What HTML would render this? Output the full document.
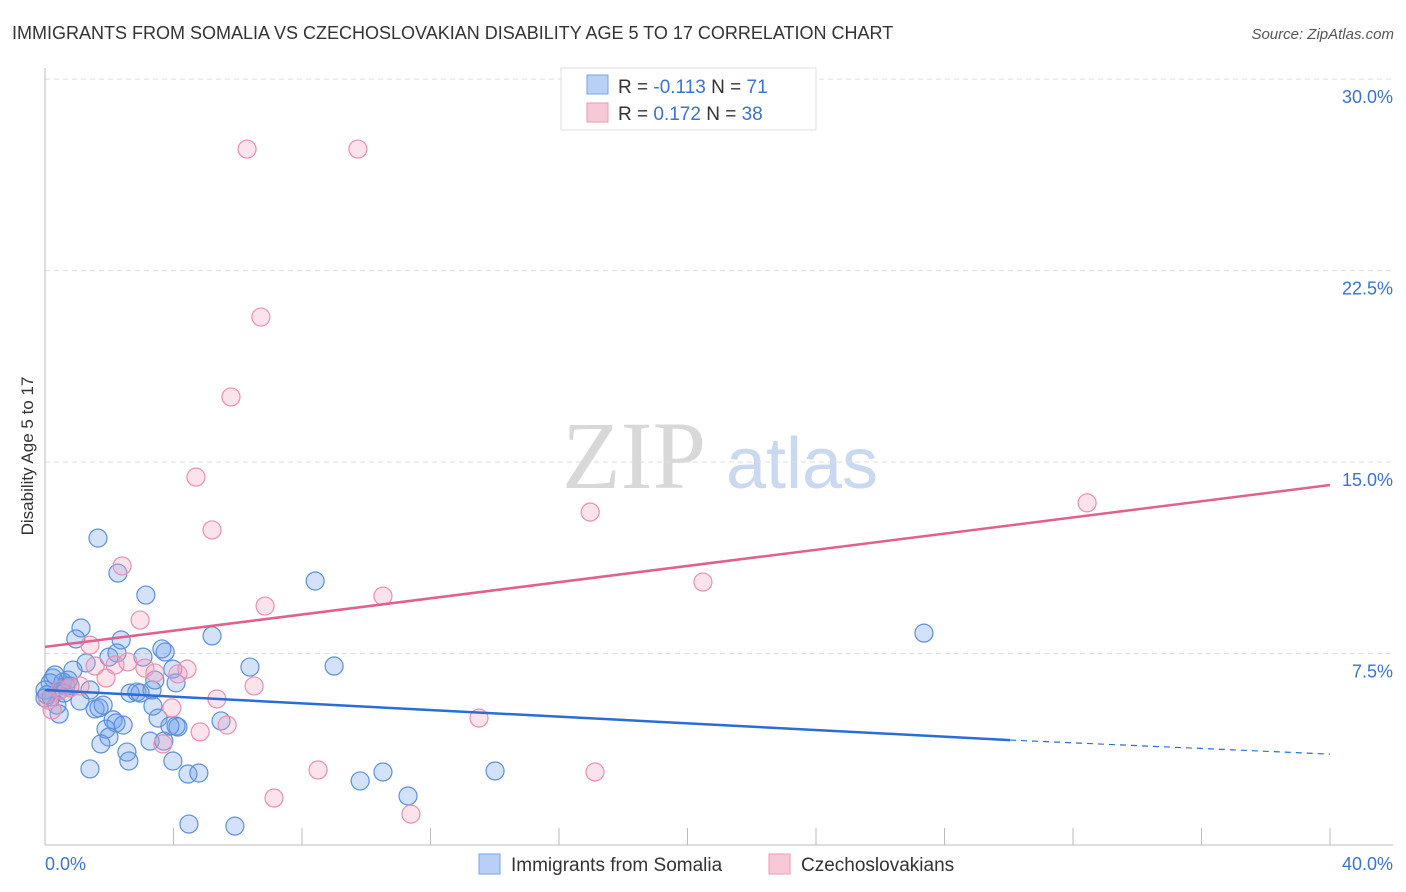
<!DOCTYPE html>
<html><head><meta charset="utf-8"><style>
body{margin:0;background:#fff;font-family:"Liberation Sans",sans-serif}
svg{display:block}
</style></head><body>
<svg id="chart" width="1406" height="892" viewBox="0 0 1406 892">
<text x="12" y="39" font-size="18" fill="#333">IMMIGRANTS FROM SOMALIA VS CZECHOSLOVAKIAN DISABILITY AGE 5 TO 17 CORRELATION CHART</text>
<text x="1394" y="39" font-size="15" fill="#555" text-anchor="end" font-style="italic">Source: ZipAtlas.com</text>
<text transform="translate(33,456) rotate(-90)" font-size="17" fill="#333" text-anchor="middle">Disability Age 5 to 17</text>
<g>
<text x="634" y="488" font-size="96" font-family="Liberation Serif,serif" fill="#d8d8d8" text-anchor="middle">ZIP</text>
<text x="802" y="488" font-size="72" fill="#c9d9f0" text-anchor="middle">atlas</text>
</g>
<g id="grid"></g>
<g id="axes"></g>
<g id="pts"></g>
<g id="trend"></g>
<g>
<rect x="561" y="68" width="255" height="62" fill="#fff" stroke="#ddd"/>
<rect x="587" y="75" width="21" height="19" fill="#b8d0f5" stroke="#7aa3e0"/>
<rect x="587" y="103" width="21" height="19" fill="#f9c8d6" stroke="#eb9ab4"/>
<text x="618" y="93" font-size="19" fill="#333">R = <tspan fill="#3b73d1">-0.113</tspan>   N = <tspan fill="#3b73d1"> 71</tspan></text>
<text x="618" y="120" font-size="19" fill="#333">R = <tspan fill="#3b73d1"> 0.172</tspan>   N = <tspan fill="#3b73d1">38</tspan></text>
</g>
<g>
<rect x="479" y="854" width="21" height="20" fill="#b8d0f5" stroke="#7aa3e0"/>
<text x="511" y="871" font-size="19" fill="#333">Immigrants from Somalia</text>
<rect x="769" y="854" width="21" height="20" fill="#f9c8d6" stroke="#eb9ab4"/>
<text x="801" y="871" font-size="19" fill="#333">Czechoslovakians</text>
</g>
</svg>
<script>
const yTicks=[7.5,15,22.5,30];
const yTickLabels=["7.5%","15.0%","22.5%","30.0%"];
const xTickVals=[0,4,8,12,16,20,24,28,32,36,40];
const xEndLabels=["0.0%","40.0%"];
const somaliaX=[1.65,2.27,3.14,8.41,1.12,2.37,0.96,5.20,27.36,1.99,3.05,3.74,2.24,3.64,1.28,0.87,6.38,9.00,3.98,0.25,0.56,0.78,1.40,2.65,2.86,3.33,3.42,4.08,0,0.19,1.09,1.56,1.68,1.81,3.36,0.44,2.12,2.21,2.43,3.52,4.14,4.08,5.48,1.90,1.99,1.74,2.55,2.61,3.27,3.70,3.98,1.40,4.45,4.79,9.81,10.52,14.01,11.30,4.48,5.91,0,0.16,0.47,0.65,2.96,0.37,3.89,0.06,0.59,0.72,0.31];
const somaliaY=[12.02,10.65,9.79,10.34,8.50,8.03,8.07,8.19,8.30,7.36,7.36,7.56,7.52,7.68,7.13,6.85,6.97,7.01,6.89,6.54,6.38,6.23,6.07,5.95,5.99,6.07,6.46,6.35,6.07,5.80,5.64,5.33,5.37,5.48,5.44,5.13,4.90,4.78,4.70,4.97,4.62,4.66,4.86,4.54,4.23,3.96,3.64,3.29,4.07,4.07,3.29,2.98,2.78,2.82,2.51,2.86,2.90,1.92,0.82,0.74,5.76,6.35,6.07,6.23,5.95,5.48,4.66,5.88,5.95,6.46,6.66];
const czechX=[6.29,9.74,6.72,5.79,4.70,5.20,16.97,32.44,2.40,6.85,10.52,20.48,2.96,1.40,2.18,2.58,3.11,3.42,4.14,4.42,1.90,1.56,6.51,5.35,3.95,4.83,5.67,3.67,13.51,8.50,17.12,7.13,11.39,0.09,0.47,0.78,0.22,1.09];
const czechY=[27.26,27.26,20.68,17.55,14.41,12.34,13.04,13.40,10.93,9.36,9.75,10.30,8.81,7.83,7.05,7.17,6.93,6.74,6.70,6.89,6.54,7.01,6.23,5.72,5.37,4.43,4.70,3.96,4.97,2.94,2.86,1.84,1.21,5.68,6.07,6.15,5.29,6.23];
const czechTrend=[7.76,14.10];
const somaliaTrend=[6.07,4.11,3.56];
const somaliaSolidEnd=30.04;

const NS="http://www.w3.org/2000/svg";
const X0=45,X1=1330,Y0=845,PXY=25.53;
const sx=v=>X0+v/40*(X1-X0), sy=v=>Y0-v*PXY;
function mk(tag,attrs,parent){const e=document.createElementNS(NS,tag);for(const k in attrs)e.setAttribute(k,attrs[k]);parent.appendChild(e);return e;}
const grid=document.getElementById('grid'),axes=document.getElementById('axes'),pts=document.getElementById('pts'),trend=document.getElementById('trend');
yTicks.forEach((t,i)=>{
 const l=mk('line',{x1:45,x2:1393,y1:sy(t),y2:sy(t),stroke:'#ddd','stroke-dasharray':'5,4'},grid);
 
 
 const tx=mk('text',{x:1393,y:sy(t)+24,'font-size':18,fill:'#3b73d1','text-anchor':'end'},axes);
 tx.textContent=yTickLabels[i];
 
 
});
let a=mk('line',{x1:45,x2:45,y1:68,y2:845,stroke:'#bbb'},axes);


a=mk('line',{x1:45,x2:1393,y1:845,y2:845,stroke:'#bbb'},axes);


xTickVals.forEach(v=>{
 const t=mk('line',{x1:sx(v),x2:sx(v),y1:828,y2:845,stroke:'#bbb'},axes);
 
 
});
let xl=mk('text',{x:45,y:870,'font-size':18,fill:'#3b73d1'},axes);xl.textContent=xEndLabels[0];


xl=mk('text',{x:1393,y:870,'font-size':18,fill:'#3b73d1','text-anchor':'end'},axes);xl.textContent=xEndLabels[1];


somaliaX.forEach((x,i)=>{
 const c=mk('circle',{cx:sx(x),cy:sy(somaliaY[i]),r:9,fill:'rgba(110,160,235,0.3)',stroke:'#5b8fdc','stroke-width':1.2},pts);
 
 
});
czechX.forEach((x,i)=>{
 const c=mk('circle',{cx:sx(x),cy:sy(czechY[i]),r:9,fill:'rgba(245,160,190,0.3)',stroke:'#eb8fae','stroke-width':1.2},pts);
 
 
});
let tl=mk('line',{x1:sx(0),y1:sy(czechTrend[0]),x2:sx(40),y2:sy(czechTrend[1]),stroke:'#e0608e','stroke-width':2.5},trend);


tl=mk('line',{x1:sx(0),y1:sy(somaliaTrend[0]),x2:sx(somaliaSolidEnd),y2:sy(somaliaTrend[1]),stroke:'#2a6dd6','stroke-width':2.5},trend);


tl=mk('line',{x1:sx(somaliaSolidEnd),y1:sy(somaliaTrend[1]),x2:sx(40),y2:sy(somaliaTrend[2]),stroke:'#2a6dd6','stroke-width':1.2,'stroke-dasharray':'6,5'},trend);


</script>
</body></html>
